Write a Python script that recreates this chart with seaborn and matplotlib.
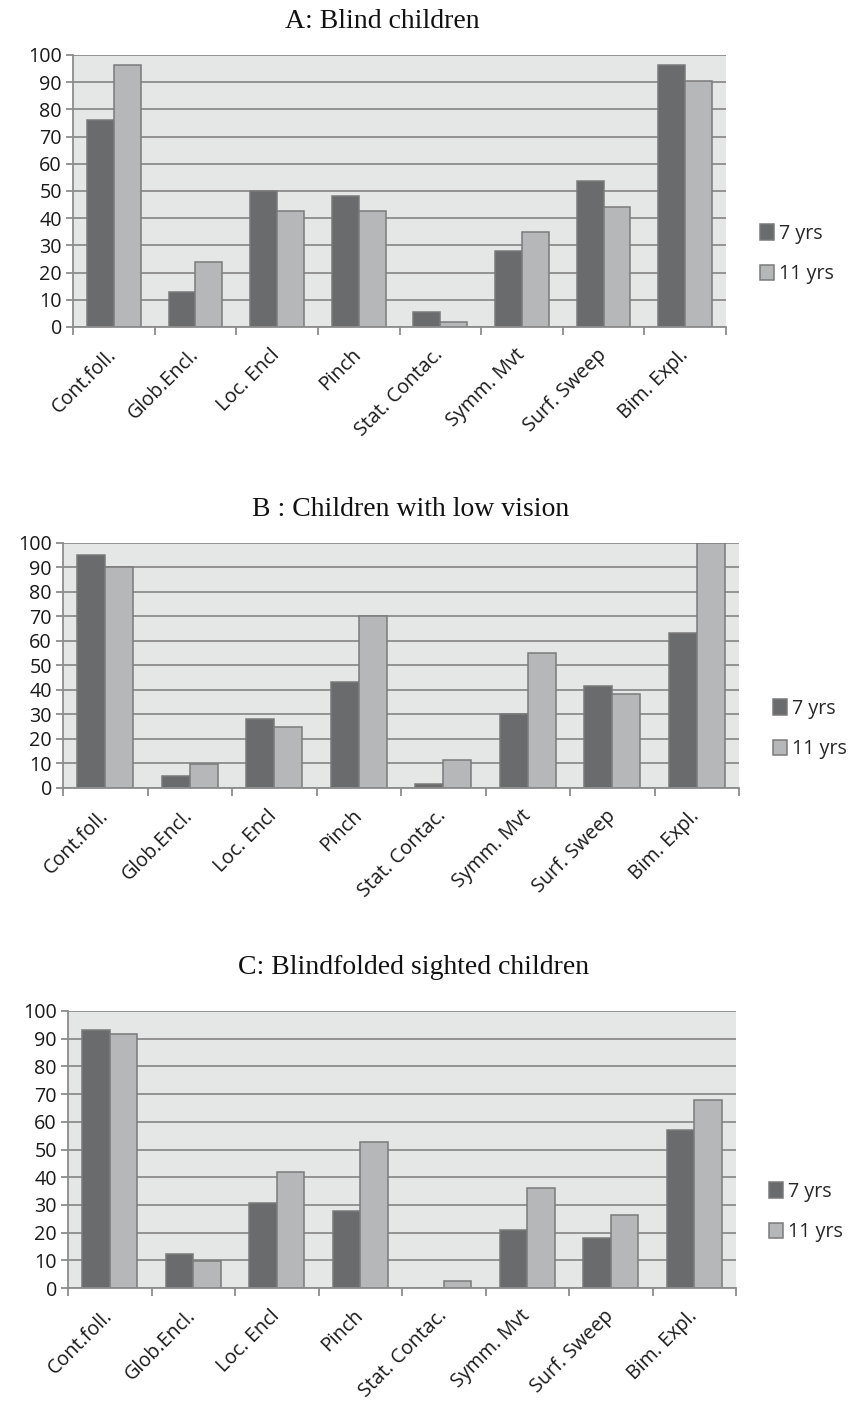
import matplotlib
matplotlib.use("Agg")
import matplotlib.pyplot as plt
from matplotlib.patches import Patch
import seaborn as sns
import pandas as pd
import numpy as np

categories = ["Cont.foll.", "Glob.Encl.", "Loc. Encl", "Pinch", "Stat. Contac.",
              "Symm. Mvt", "Surf. Sweep", "Bim. Expl."]
series_names = ["7 yrs", "11 yrs"]

blind_7 = [76, 13, 50, 48, 5.5, 27.8, 53.7, 96.2]
blind_11 = [96.2, 24, 42.5, 42.5, 1.7, 35, 44.3, 90.6]

lowvision_7 = [95, 5, 28.3, 43.3, 1.6, 30, 41.7, 63.4]
lowvision_11 = [90, 9.9, 25, 70, 11.6, 55, 38.3, 100]

blindfolded_7 = [93, 12.4, 30.6, 27.8, 0, 20.8, 18.1, 57]
blindfolded_11 = [91.6, 9.6, 41.7, 52.8, 2.7, 36.1, 26.3, 68]

titles = ["A: Blind children", "B : Children with low vision", "C: Blindfolded sighted children"]
yticks = [0, 10, 20, 30, 40, 50, 60, 70, 80, 90, 100]

DARK = "#6a6b6d"
LIGHT = "#b6b7b9"
EDGE = "#7a7a7a"
GRID = "#8c8c8c"
BG = "#e5e6e6"

sns.set_theme(style="white")
plt.rcParams["font.family"] = ["Open Sans", "DejaVu Sans"]

W, H = 849, 1409
fig = plt.figure(figsize=(W / 100, H / 100), dpi=100)

# pixel boxes: left, right, top, bottom
boxes = [(73, 726, 55, 327), (63, 739, 543, 788), (68, 736, 1011, 1288)]
title_pos = [(382, 22), (411, 510), (414, 968)]
legend_pos = [(760, 254), (773, 729), (769, 1212)]

datasets = [(blind_7, blind_11), (lowvision_7, lowvision_11), (blindfolded_7, blindfolded_11)]

for i, ((s7, s11), (l, r, t, b)) in enumerate(zip(datasets, boxes)):
    ax = fig.add_axes([l / W, 1 - b / H, (r - l) / W, (b - t) / H])
    df = pd.DataFrame({
        "category": categories * 2,
        "value": list(s7) + list(s11),
        "age": [series_names[0]] * len(categories) + [series_names[1]] * len(categories),
    })
    sns.barplot(data=df, x="category", y="value", hue="age", order=categories,
                hue_order=series_names, palette=[DARK, LIGHT], saturation=1,
                width=0.66, gap=0, edgecolor=EDGE, linewidth=1.1, ax=ax,
                legend=False, errorbar=None)
    ax.set_facecolor(BG)
    ax.set_axisbelow(True)
    ax.set_xlim(-0.5, len(categories) - 0.5)
    ax.set_ylim(0, 100)
    ax.set_yticks(yticks)
    ax.yaxis.grid(True, color=GRID, linewidth=1.3)
    ax.xaxis.grid(False)
    for sp in ["top", "right"]:
        ax.spines[sp].set_visible(False)
    for sp in ["left", "bottom"]:
        ax.spines[sp].set_color(GRID)
        ax.spines[sp].set_linewidth(1.3)
    ax.set_xlabel("")
    ax.set_ylabel("")
    ax.tick_params(axis="y", which="major", left=True, length=5, width=1.3,
                   color=GRID, labelsize=14.2, labelcolor="#1a1a1a", pad=3)
    ax.set_xticks(range(len(categories)))
    ax.set_xticks(np.arange(-0.5, len(categories), 1), minor=True)
    ax.tick_params(axis="x", which="major", length=0, pad=18, labelsize=14.2,
                   labelcolor="#1a1a1a")
    ax.tick_params(axis="x", which="minor", bottom=True, length=6, width=1.3, color=GRID)
    ax.set_xticklabels(categories, rotation=45, ha="right", va="center",
                       rotation_mode="anchor")
    tx, ty = title_pos[i]
    fig.text(tx / W, 1 - ty / H, titles[i], ha="center", va="center",
             family="Liberation Serif", fontsize=20, color="#111111")
    handles = [Patch(facecolor=DARK, edgecolor=EDGE, linewidth=1.1),
               Patch(facecolor=LIGHT, edgecolor=EDGE, linewidth=1.1)]
    lx, ly = legend_pos[i]
    ax.legend(handles, series_names, loc="center left",
              bbox_to_anchor=(lx / W, 1 - ly / H), bbox_transform=fig.transFigure,
              frameon=False, fontsize=14.2, handlelength=0.7, handleheight=0.85,
              handletextpad=0.25, labelspacing=1.05, borderpad=0, borderaxespad=0)

fig.savefig("out.png", dpi=100)
